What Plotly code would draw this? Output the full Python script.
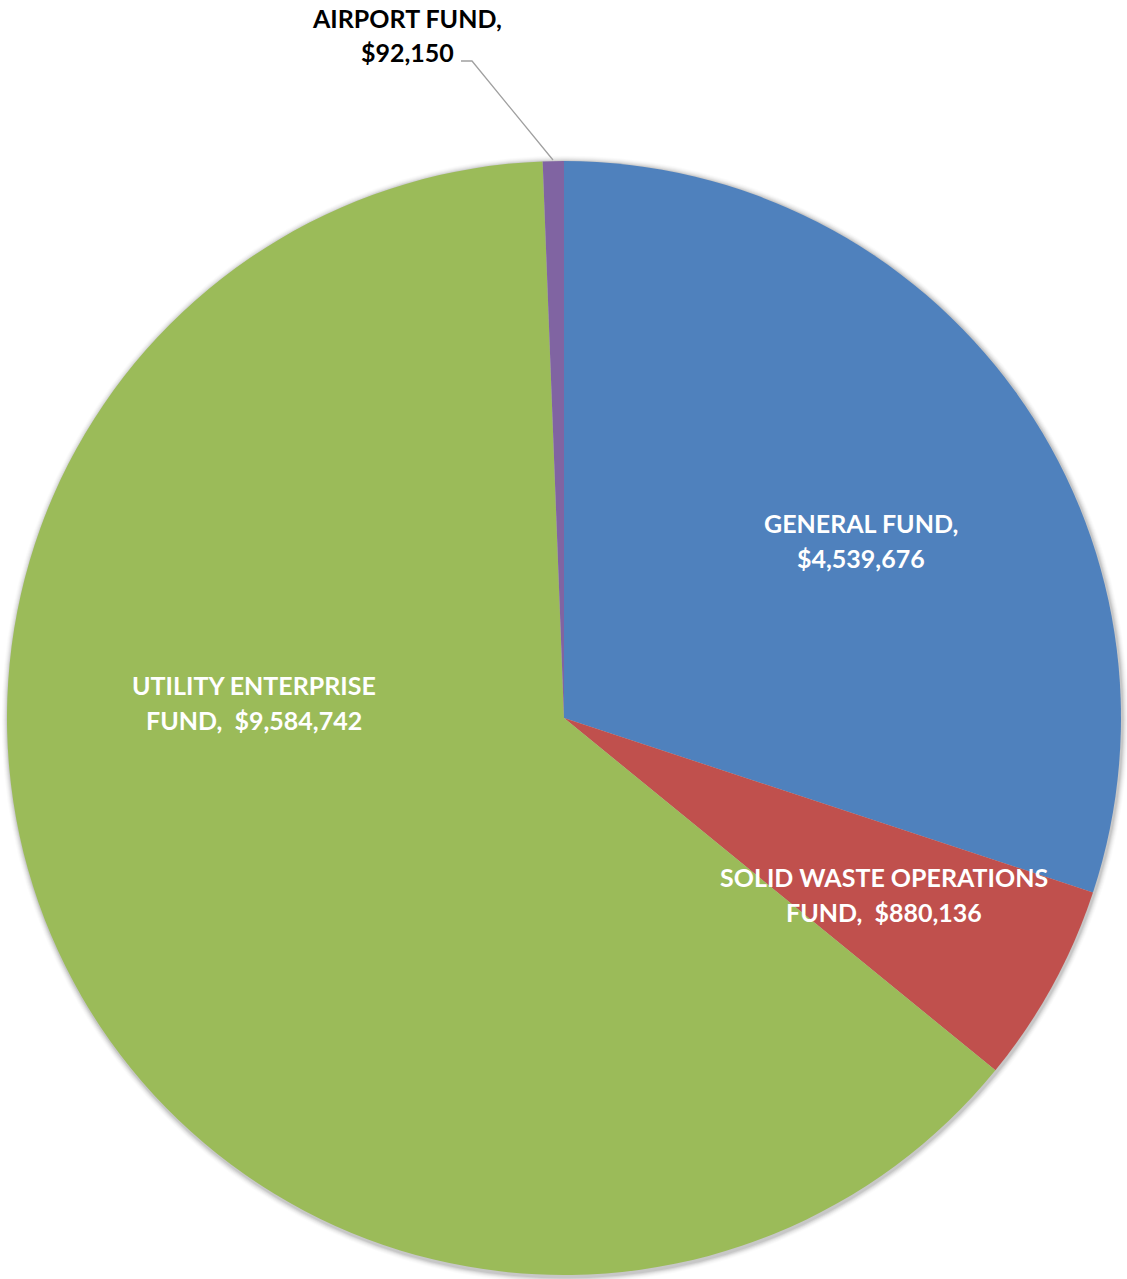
import plotly.graph_objects as go

# Fund budget breakdown
funds = ["GENERAL FUND", "SOLID WASTE OPERATIONS FUND", "UTILITY ENTERPRISE FUND", "AIRPORT FUND"]
amounts = [4539676, 880136, 9584742, 92150]
colors = ["#4F81BD", "#C0504D", "#9BBB59", "#8064A2"]
label_lines = [
    ("GENERAL FUND,", ""),
    ("SOLID WASTE OPERATIONS", "FUND, "),
    ("UTILITY ENTERPRISE", "FUND, "),
    ("AIRPORT FUND,", ""),
]

W, H = 1127, 1279
CX, CY, R = 564, 718, 557


def px(x):
    return x / W


def py(y):
    return 1 - y / H


fig = go.Figure(go.Pie(
    labels=funds,
    values=amounts,
    marker=dict(colors=colors, line=dict(width=0)),
    sort=False,
    direction="clockwise",
    rotation=0,
    textinfo="none",
    hoverinfo="label+value",
    showlegend=False,
    domain=dict(x=[px(CX - R), px(CX + R)], y=[py(CY + R), py(CY - R)]),
))

# soft shadow ring around the pie
shapes = []
for i, op in enumerate([0.07, 0.05, 0.04, 0.03, 0.02, 0.015]):
    d = i + 1.5
    shapes.append(dict(
        type="circle", xref="paper", yref="paper", layer="below",
        x0=px(CX - R - d + 1), x1=px(CX + R + d + 1),
        y0=py(CY + R + d + 2), y1=py(CY - R - d + 1),
        fillcolor=f"rgba(0,0,0,{op})", line=dict(width=0),
    ))

# leader line for the small airport slice
shapes.append(dict(
    type="path", xref="paper", yref="paper",
    path=f"M {px(461)} {py(61)} L {px(472)} {py(61)} L {px(553)} {py(160)}",
    line=dict(color="#A0A0A0", width=1.3),
))

# label positions: centre x, first-line y, second-line y (pixels)
label_pos = [(861, 523, 558), (884, 877, 912), (254, 685, 720), (407, 18, 52)]
label_color = ["white", "white", "white", "black"]

annotations = []
for (l1, l2), amt, (x, y1, y2), c in zip(label_lines, amounts, label_pos, label_color):
    money = f"${amt:,}"
    second = (l2.replace(" ", "\u00a0") + "\u00a0" + money) if l2 else money
    for txt, y in ((l1, y1), (second, y2)):
        annotations.append(dict(
            x=px(x), y=py(y), xref="paper", yref="paper",
            text=f"<b>{txt}</b>",
            showarrow=False, xanchor="center", yanchor="middle",
            font=dict(family="Lato", size=25, color=c),
        ))

fig.update_layout(
    width=W, height=H,
    margin=dict(l=0, r=0, t=0, b=0),
    paper_bgcolor="white",
    plot_bgcolor="white",
    shapes=shapes,
    annotations=annotations,
)

fig.write_html("out.html")
